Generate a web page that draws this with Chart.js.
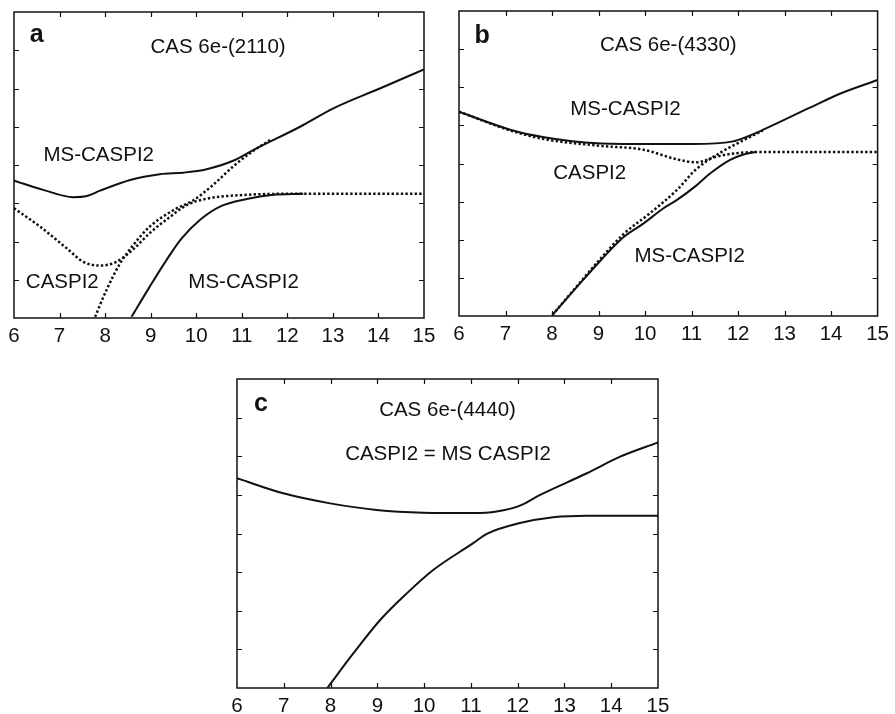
<!DOCTYPE html>
<html>
<head>
<meta charset="utf-8">
<script src="https://cdn.jsdelivr.net/npm/chart.js@4"></script>
<style>
  html, body { margin: 0; padding: 0; background: #fff; }
  body { width: 895px; height: 714px; position: relative; overflow: hidden; }
  .panel { position: absolute; }
</style>
</head>
<body>
<div class="panel" style="left:0;top:0;width:445px;height:350px"><canvas id="chartA"></canvas></div>
<div class="panel" style="left:445px;top:0;width:450px;height:350px"><canvas id="chartB"></canvas></div>
<div class="panel" style="left:220px;top:360px;width:460px;height:354px"><canvas id="chartC"></canvas></div>
<script>
// x values are shared by all panels, y axis is unlabelled (0..8)
const xTicks = [6, 7, 8, 9, 10, 11, 12, 13, 14, 15];
const yTicks = [1, 2, 3, 4, 5, 6, 7];

// panel a: CAS 6e-(2110)
const aMsUpper = [[6, 3.59], [6.64, 3.35], [7.3, 3.16], [7.6, 3.19], [7.89, 3.33], [8.55, 3.61],
  [9.2, 3.76], [9.72, 3.8], [10.23, 3.89], [10.81, 4.11], [11.25, 4.39], [12.28, 5.0],
  [13.01, 5.48], [14.03, 6.0], [15, 6.5]];
const aMsLower = [[8.58, 0.03], [8.98, 0.82], [9.35, 1.52], [9.68, 2.08], [10.08, 2.56],
  [10.52, 2.91], [11.11, 3.11], [11.69, 3.22], [12.35, 3.25]];
const aCasLower = [[6, 2.87], [6.57, 2.39], [7.16, 1.82], [7.52, 1.47], [7.89, 1.37], [8.25, 1.47],
  [8.62, 1.8], [8.98, 2.22], [9.42, 2.64], [9.79, 2.95], [10.23, 3.12], [10.81, 3.2],
  [12.28, 3.25], [15, 3.25]];
const aCasUpper = [[7.78, 0.03], [8.03, 0.73], [8.33, 1.43], [8.62, 1.91], [8.98, 2.39], [9.5, 2.82],
  [9.94, 3.08], [10.37, 3.48], [10.81, 3.96], [11.18, 4.31], [11.62, 4.65]];

// panel b: CAS 6e-(4330)
const bMsUpper = [[6, 5.36], [7.12, 4.88], [7.83, 4.69], [8.97, 4.53], [9.97, 4.51], [11.03, 4.51],
  [11.89, 4.58], [12.1, 4.66], [12.53, 4.88], [13.52, 5.45], [14.23, 5.85], [15, 6.19]];
const bMsLower = [[8.01, 0.03], [8.54, 0.77], [9.04, 1.45], [9.54, 2.07], [9.97, 2.43], [10.39, 2.82],
  [10.68, 3.04], [11.1, 3.42], [11.39, 3.73], [11.82, 4.09], [12.1, 4.23], [12.38, 4.3]];
const bCasUpper = [[6, 5.36], [7.12, 4.86], [7.83, 4.64], [8.97, 4.47], [9.97, 4.36], [10.68, 4.11],
  [11.1, 4.03], [11.53, 4.18], [11.96, 4.27], [12.38, 4.3], [15, 4.3]];
const bCasLower = [[8.01, 0.03], [8.54, 0.79], [9.04, 1.5], [9.54, 2.15], [10.11, 2.7], [10.68, 3.3],
  [11.1, 3.85], [11.6, 4.27], [12.1, 4.6], [12.53, 4.86]];

// panel c: CAS 6e-(4440), both methods coincide
const cUpper = [[6, 5.43], [6.99, 5.04], [7.99, 4.78], [8.98, 4.61], [9.98, 4.54], [11.05, 4.53],
  [11.55, 4.57], [12.05, 4.72], [12.48, 5.0], [13.48, 5.56], [14.19, 5.99], [15, 6.36]];
const cLower = [[7.93, 0.0], [8.49, 0.9], [9.06, 1.76], [9.63, 2.45], [10.2, 3.06], [11.05, 3.75],
  [11.34, 3.99], [12.05, 4.27], [12.76, 4.42], [13.48, 4.46], [15, 4.46]];

const FONT = "'Liberation Sans', Arial, sans-serif";
const INK = '#111';

const panelDecor = {
  id: 'panelDecor',
  afterDatasetsDraw(chart, args, opts) {
    const { ctx, chartArea: a, scales: { x, y } } = chart;
    ctx.save();
    ctx.strokeStyle = INK;
    ctx.lineWidth = 1.2;
    ctx.beginPath();
    xTicks.slice(1, -1).forEach((v) => {
      const px = Math.round(x.getPixelForValue(v)) + 0.5;
      ctx.moveTo(px, a.bottom); ctx.lineTo(px, a.bottom - 5);
      ctx.moveTo(px, a.top); ctx.lineTo(px, a.top + 5);
    });
    yTicks.forEach((v) => {
      const py = Math.round(y.getPixelForValue(v)) + 0.5;
      ctx.moveTo(a.left, py); ctx.lineTo(a.left + 5, py);
      ctx.moveTo(a.right, py); ctx.lineTo(a.right - 5, py);
    });
    ctx.stroke();
    ctx.lineWidth = 1.5;
    ctx.strokeRect(a.left, a.top, a.right - a.left, a.bottom - a.top);

    ctx.fillStyle = INK;
    ctx.textAlign = 'center';
    ctx.textBaseline = 'middle';
    (opts.labels || []).forEach((l) => {
      ctx.font = l.bold ? 'bold 25px ' + FONT : '20.5px ' + FONT;
      ctx.fillText(l.text, x.getPixelForValue(l.x), y.getPixelForValue(l.y));
    });
    ctx.restore();
  },
};

const toXY = (pts) => pts.map(([x, y]) => ({ x, y }));

function line(pts, dotted) {
  return {
    data: toXY(pts),
    borderColor: INK,
    borderWidth: dotted ? 2.5 : 2,
    borderDash: dotted ? [2.4, 2.2] : [],
    cubicInterpolationMode: 'monotone',
    pointRadius: 0,
    fill: false,
  };
}

function makeChart(id, datasets, labels, pad, axisHeight) {
  return new Chart(document.getElementById(id), {
    type: 'line',
    data: { datasets },
    plugins: [panelDecor],
    options: {
      responsive: true,
      maintainAspectRatio: false,
      animation: false,
      events: [],
      layout: { padding: pad },
      plugins: {
        legend: { display: false },
        tooltip: { enabled: false },
        panelDecor: { labels },
      },
      scales: {
        x: {
          type: 'linear',
          min: 6,
          max: 15,
          afterFit(scale) { scale.height = axisHeight; },
          afterBuildTicks(scale) { scale.ticks = xTicks.map((v) => ({ value: v })); },
          grid: { display: false, drawTicks: false },
          border: { display: false },
          ticks: {
            autoSkip: false,
            maxRotation: 0,
            padding: 6,
            color: INK,
            font: { family: FONT, size: 20.5 },
          },
        },
        y: { type: 'linear', min: 0, max: 8, display: false },
      },
    },
  });
}

makeChart('chartA',
  [line(aCasLower, true), line(aCasUpper, true), line(aMsUpper, false), line(aMsLower, false)],
  [
    { text: 'a', x: 6.5, y: 7.4, bold: true },
    { text: 'CAS 6e-(2110)', x: 10.48, y: 7.08 },
    { text: 'MS-CASPI2', x: 7.86, y: 4.25 },
    { text: 'CASPI2', x: 7.06, y: 0.92 },
    { text: 'MS-CASPI2', x: 11.04, y: 0.92 },
  ],
  { left: 14, top: 12, right: 21, bottom: 0 }, 32);

makeChart('chartB',
  [line(bCasUpper, true), line(bCasLower, true), line(bMsUpper, false), line(bMsLower, false)],
  [
    { text: 'b', x: 6.5, y: 7.35, bold: true },
    { text: 'CAS 6e-(4330)', x: 10.5, y: 7.1 },
    { text: 'MS-CASPI2', x: 9.58, y: 5.41 },
    { text: 'CASPI2', x: 8.81, y: 3.73 },
    { text: 'MS-CASPI2', x: 10.96, y: 1.57 },
  ],
  { left: 14, top: 11, right: 14, bottom: 0 }, 34);

makeChart('chartC',
  [line(cUpper, false), line(cLower, false)],
  [
    { text: 'c', x: 6.51, y: 7.35, bold: true },
    { text: 'CAS 6e-(4440)', x: 10.5, y: 7.18 },
    { text: 'CASPI2 = MS CASPI2', x: 10.51, y: 6.04 },
  ],
  { left: 17, top: 19, right: 22, bottom: 0 }, 26);
</script>
</body>
</html>
